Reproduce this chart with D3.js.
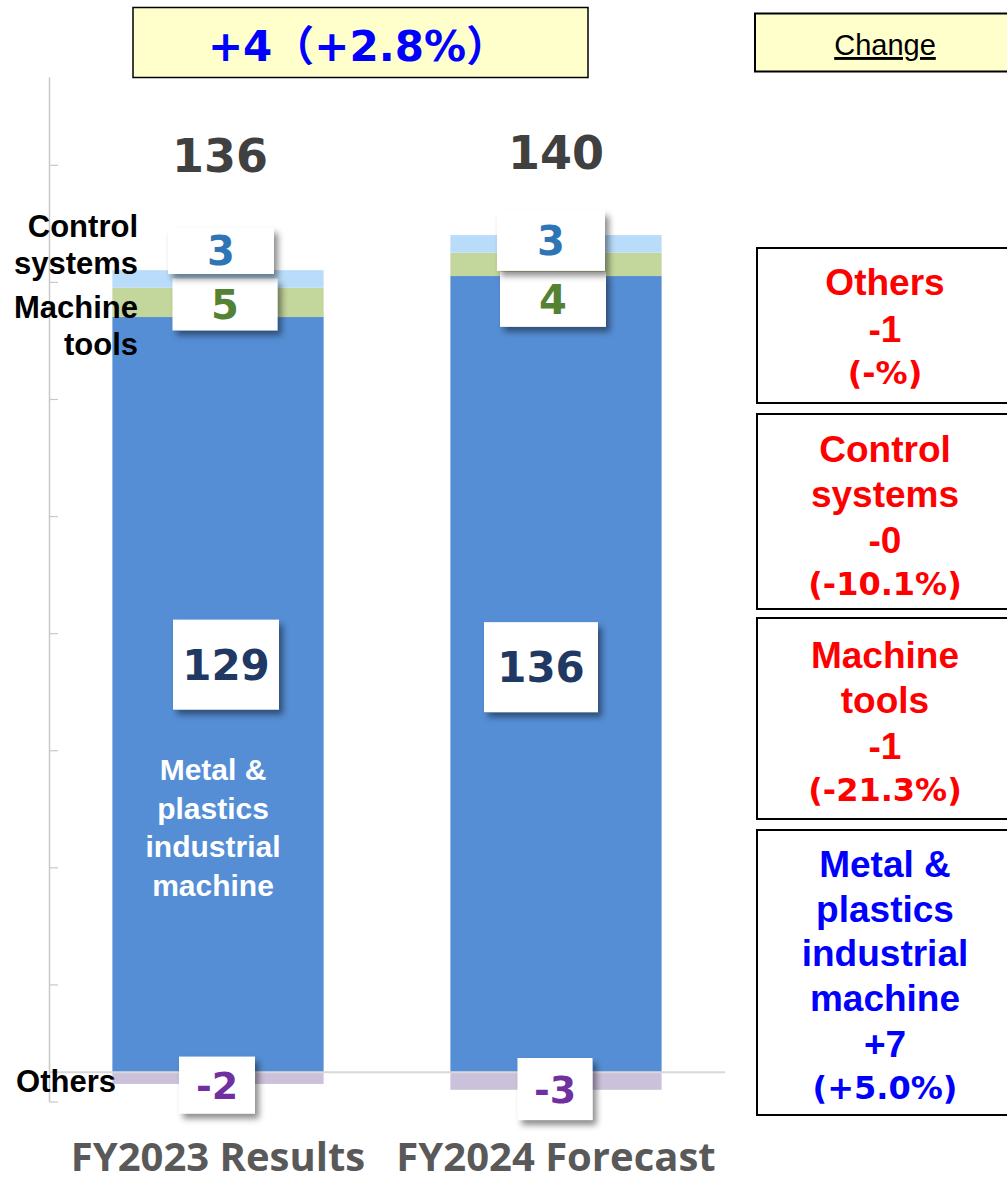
<!DOCTYPE html>
<html>
<head>
<meta charset="utf-8">
<script src="https://cdn.jsdelivr.net/npm/d3@7"></script>
<style>
  html, body { margin: 0; padding: 0; background: #fff; }
  svg { display: block; }
</style>
</head>
<body>
<svg id="chart" width="1007" height="1182"></svg>
<script>
// ---- data ----
const categories = ["FY2023 Results", "FY2024 Forecast"];
const seriesNames = ["Metal & plastics industrial machine", "Machine tools", "Control systems", "Others"];
const metalValues = [129, 136];
const machineValues = [5, 4];
const controlValues = [3, 3];
const othersValues = [-2, -3];
const totals = [136, 140];
const totalChangeParts = ["+4", "（", "+2.8%", "）"];
const tickValues = [-5, 15, 35, 55, 75, 95, 115, 135, 155];

const changeNames = [["Others"], ["Control", "systems"], ["Machine", "tools"], ["Metal &", "plastics", "industrial", "machine"]];
const changeAbs = ["-1", "-0", "-1", "+7"];
const changePct = ["(-%)", "(-10.1%)", "(-21.3%)", "(+5.0%)"];

// ---- styling ----
const colors = {
  "Metal & plastics industrial machine": "#558ed5",
  "Machine tools": "#c3d69b",
  "Control systems": "#b9dcfa",
  "Others": "#ccc1da"
};
const labelColors = {
  "Metal & plastics industrial machine": "#1f3864",
  "Machine tools": "#548235",
  "Control systems": "#2e75b6",
  "Others": "#7030a0"
};
const ARIAL = "'Liberation Sans', Arial, sans-serif";
const VERD = "'DejaVu Sans', Verdana, sans-serif";
const CJK = "'Noto Sans CJK JP', 'Noto Sans CJK SC', sans-serif";

const svg = d3.select("#chart");

// drop shadow for data label boxes
const defs = svg.append("defs");
const f = defs.append("filter").attr("id", "shadow")
  .attr("x", "-20%").attr("y", "-20%").attr("width", "150%").attr("height", "160%");
f.append("feDropShadow").attr("dx", 4).attr("dy", 5).attr("stdDeviation", 3)
  .attr("flood-color", "#000").attr("flood-opacity", 0.45);

// ---- scales ----
const x = d3.scaleBand().domain(categories).range([49, 725])
  .paddingInner(0.375).paddingOuter(0.1875);
const y = d3.scaleLinear().domain([-5, 170]).range([1101.5, 77]);

// ---- axis ----
const axis = svg.append("g").attr("transform", "translate(49,0)")
  .call(d3.axisRight(y).tickValues(tickValues).tickSize(9).tickSizeOuter(0).tickFormat(""));
axis.select(".domain").attr("stroke", "#c8c8c8").attr("stroke-width", 1.5);
axis.selectAll(".tick line").attr("stroke", "#c8c8c8").attr("stroke-width", 1.2);

// ---- stacked bars ----
const rows = categories.map((c, i) => ({
  cat: c,
  "Metal & plastics industrial machine": metalValues[i],
  "Machine tools": machineValues[i],
  "Control systems": controlValues[i],
  "Others": othersValues[i]
}));
const stack = d3.stack().keys(seriesNames).offset(d3.stackOffsetDiverging);
const layers = stack(rows);

svg.append("g").selectAll("g").data(layers).join("g")
  .attr("fill", d => colors[d.key])
  .selectAll("rect").data(d => d.map(s => ({ s, key: d.key })))
  .join("rect")
  .attr("x", d => x(d.s.data.cat))
  .attr("width", x.bandwidth())
  .attr("y", d => y(Math.max(d.s[0], d.s[1])))
  .attr("height", d => Math.abs(y(d.s[0]) - y(d.s[1])));

// zero baseline
svg.append("line")
  .attr("x1", 49).attr("x2", 725)
  .attr("y1", y(0)).attr("y2", y(0))
  .attr("stroke", "#d9d9d9").attr("stroke-width", 2);

// ---- data labels in white boxes ----
// placement nudges (px) of each label box relative to its segment midpoint
const labelLayout = {
  "Metal & plastics industrial machine": [{ dx: 8, dy: -30, w: 106, h: 90 }, { dx: -15, dy: -7, w: 114, h: 90 }],
  "Machine tools": [{ dx: 7, dy: 2, w: 105, h: 52 }, { dx: -3, dy: 35, w: 106, h: 55 }],
  "Control systems": [{ dx: 3, dy: -28, w: 106, h: 46 }, { dx: -5, dy: -3, w: 108, h: 60 }],
  "Others": [{ dx: -1, dy: 7, w: 76, h: 57 }, { dx: -1, dy: 8, w: 75, h: 62 }]
};
const labelFont = {
  "Metal & plastics industrial machine": 42,
  "Machine tools": 40,
  "Control systems": 40,
  "Others": 38
};
// draw order: others, metal, machine, control (control on top)
const labelOrder = ["Others", "Metal & plastics industrial machine", "Machine tools", "Control systems"];
const labelG = svg.append("g");
labelOrder.forEach(key => {
  const layer = layers.find(l => l.key === key);
  layer.forEach((s, i) => {
    const L = labelLayout[key][i];
    const cx = x(s.data.cat) + x.bandwidth() / 2 + L.dx;
    const cy = (y(s[0]) + y(s[1])) / 2 + L.dy;
    const g = labelG.append("g");
    g.append("rect")
      .attr("x", cx - L.w / 2).attr("y", cy - L.h / 2)
      .attr("width", L.w).attr("height", L.h)
      .attr("fill", "#fff").attr("filter", "url(#shadow)");
    g.append("text")
      .attr("x", cx).attr("y", cy)
      .attr("dy", "0.36em")
      .attr("text-anchor", "middle")
      .attr("font-family", VERD).attr("font-weight", "bold")
      .attr("font-size", labelFont[key])
      .attr("fill", labelColors[key])
      .text(s.data[key]);
  });
});

// ---- totals above bars ----
const totalLift = [104, 84];
svg.append("g").selectAll("text").data(categories).join("text")
  .attr("x", (d, i) => x(d) + x.bandwidth() / 2 + [2, 0][i])
  .attr("y", (d, i) => y(totals[i]) - totalLift[i])
  .attr("text-anchor", "middle")
  .attr("font-family", VERD).attr("font-weight", "bold").attr("font-size", 46)
  .attr("fill", "#404040")
  .text((d, i) => totals[i]);

// ---- category labels ----
svg.append("g").selectAll("text").data(categories).join("text")
  .attr("x", d => x(d) + x.bandwidth() / 2)
  .attr("y", 1171)
  .attr("text-anchor", "middle")
  .attr("font-family", "'Open Sans', 'Noto Sans', sans-serif").attr("font-weight", "bold")
  .attr("font-size", 40)
  .attr("fill", "#595959")
  .text(d => d);

// ---- segment names on the left ----
const sideLabels = [
  { lines: ["Control", "systems"], x: 138, y: 237 },
  { lines: ["Machine", "tools"], x: 138, y: 318 },
  { lines: ["Others"], x: 116, y: 1092 }
];
sideLabels.forEach(s => {
  const t = svg.append("text")
    .attr("text-anchor", "end")
    .attr("font-family", ARIAL).attr("font-weight", "bold").attr("font-size", 31)
    .attr("fill", "#000");
  s.lines.forEach((ln, k) => t.append("tspan").attr("x", s.x).attr("y", s.y + k * 37).text(ln));
});

// series name inside the metal bar
const metalName = svg.append("text")
  .attr("text-anchor", "middle")
  .attr("font-family", ARIAL).attr("font-weight", "bold").attr("font-size", 30)
  .attr("fill", "#fff");
["Metal &", "plastics", "industrial", "machine"].forEach((ln, k) =>
  metalName.append("tspan").attr("x", x(categories[0]) + x.bandwidth() / 2 - 5).attr("y", 780 + k * 38.5).text(ln));

// ---- total change box ----
svg.append("rect").attr("x", 133).attr("y", 7.5).attr("width", 455).attr("height", 70)
  .attr("fill", "#ffffcc").attr("stroke", "#000").attr("stroke-width", 1.5);
const tc = svg.append("text").attr("x", 358).attr("y", 61)
  .attr("text-anchor", "middle")
  .attr("font-weight", "bold").attr("font-size", 42)
  .attr("fill", "#0000ff");
totalChangeParts.forEach(p => {
  const fw = p === "（" || p === "）";
  tc.append("tspan").attr("font-family", fw ? CJK : VERD).text(p);
});

// ---- "Change" header ----
svg.append("rect").attr("x", 755).attr("y", 13.5).attr("width", 300).attr("height", 58)
  .attr("fill", "#ffffcc").attr("stroke", "#000").attr("stroke-width", 2);
svg.append("text").attr("x", 885).attr("y", 55)
  .attr("text-anchor", "middle")
  .attr("font-family", ARIAL).attr("font-size", 29)
  .attr("text-decoration", "underline")
  .attr("fill", "#000")
  .text("Change");

// ---- change boxes per segment ----
const changeBoxes = [
  { y0: 248, y1: 403, base: 295 },
  { y0: 414, y1: 609, base: 462 },
  { y0: 618, y1: 819, base: 668 },
  { y0: 830, y1: 1115, base: 877 }
];
changeNames.forEach((names, i) => {
  const b = changeBoxes[i];
  const col = changeAbs[i].startsWith("+") ? "#0000ff" : "#ff0000";
  svg.append("rect").attr("x", 757).attr("y", b.y0).attr("width", 300).attr("height", b.y1 - b.y0)
    .attr("fill", "#fff").attr("stroke", "#000").attr("stroke-width", 2);
  const t = svg.append("text").attr("text-anchor", "middle")
    .attr("font-family", ARIAL).attr("font-weight", "bold").attr("font-size", 37)
    .attr("fill", col);
  names.forEach((ln, k) => t.append("tspan").attr("x", 885).attr("y", b.base + k * 44.5).text(ln));
  const n = names.length;
  t.append("tspan").attr("x", 885).attr("y", b.base + n * 44.5 + 2).text(changeAbs[i]);
  svg.append("text").attr("text-anchor", "middle")
    .attr("x", 885).attr("y", b.base + n * 44.5 + 44)
    .attr("font-family", VERD).attr("font-weight", "bold").attr("font-size", 32)
    .attr("fill", col)
    .text(changePct[i]);
});
</script>
</body>
</html>
